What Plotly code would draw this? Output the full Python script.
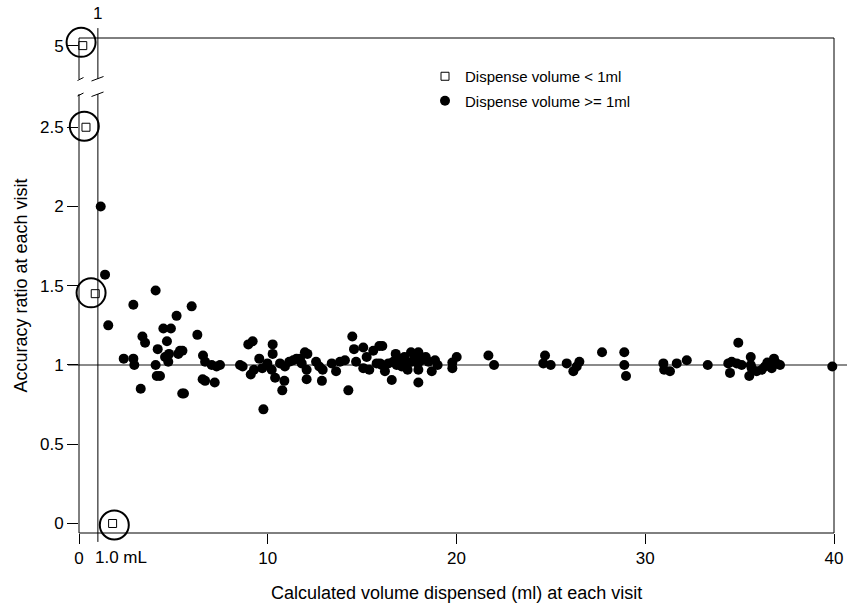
import plotly.graph_objects as go

# ---------------- data ----------------
open_x = [0.2, 0.37, 0.86, 1.78]
open_y = [5, 2.5, 1.45, 0]

filled_x = [
    1.15, 1.38, 4.06, 2.88, 5.97, 1.55, 5.17, 4.47, 4.87, 3.36, 3.50, 4.66, 6.27, 4.17,
    5.35, 5.48, 5.26, 4.56, 4.77, 4.73, 2.37, 2.88, 2.93, 4.06, 6.57, 6.68, 7.03, 7.29,
    7.47, 4.12, 4.29, 6.55, 6.68, 7.19, 3.27, 5.47, 5.56,
    8.53, 8.67, 8.97, 9.20, 9.10, 9.27, 9.55, 9.71, 9.77, 9.98, 10.26, 10.26, 10.21,
    10.39, 10.88, 10.77, 10.65, 10.91, 11.14, 11.35, 11.53, 11.71, 11.80, 11.97, 12.10,
    12.06, 12.06, 12.56, 12.73, 12.91, 12.87, 13.39, 13.62, 13.83, 14.09, 14.27, 14.48,
    14.57, 14.68, 15.06, 15.24, 15.06, 15.38, 15.59, 15.77, 15.91,
    16.07, 15.95, 16.04, 16.21, 16.57, 16.39, 16.65, 16.78, 16.83, 17.01, 17.10, 17.24,
    17.36, 17.41, 17.59, 17.63, 17.80, 17.98, 17.95, 17.98, 17.98, 18.16, 18.37, 18.51,
    18.69, 18.86, 19.00, 19.78, 19.78, 20.01, 21.69, 21.99,
    24.69, 24.60, 24.99, 25.84, 26.19, 26.37, 26.51, 27.71, 28.89, 28.89, 28.98, 30.96,
    31.00, 31.31, 31.67,
    32.20, 33.31, 34.40, 34.58, 34.85, 35.11, 34.49, 34.93, 35.59, 35.59, 35.64, 35.51,
    35.90, 36.17, 36.34, 36.47, 36.70, 36.82, 36.96, 37.14, 39.91,
]
filled_y = [
    2.00, 1.57, 1.47, 1.38, 1.37, 1.25, 1.31, 1.23, 1.23, 1.18, 1.14, 1.15, 1.19, 1.10,
    1.09, 1.09, 1.07, 1.05, 1.07, 1.02, 1.04, 1.04, 1.00, 1.00, 1.06, 1.02, 1.00, 0.99,
    1.00, 0.93, 0.93, 0.91, 0.90, 0.89, 0.85, 0.82, 0.82,
    1.00, 0.99, 1.13, 1.15, 0.94, 0.97, 1.04, 0.98, 0.72, 1.01, 1.13, 1.07, 0.97,
    0.92, 0.90, 0.84, 1.01, 0.99, 1.02, 1.03, 1.04, 1.04, 1.01, 1.08, 1.07,
    0.97, 0.91, 1.02, 0.99, 0.97, 0.90, 1.01, 0.96, 1.02, 1.03, 0.84, 1.18,
    1.10, 1.02, 1.11, 1.05, 0.98, 0.97, 1.09, 1.01, 1.12,
    1.12, 1.01, 1.00, 0.96, 0.905, 1.01, 1.02, 1.07, 1.00, 1.04, 0.99, 1.05,
    1.00, 0.97, 1.08, 1.02, 1.04, 1.08, 1.01, 0.97, 0.89, 1.03, 1.05, 1.02,
    0.96, 1.03, 1.00, 1.015, 0.98, 1.05, 1.06, 1.00,
    1.06, 1.01, 1.00, 1.01, 0.96, 0.99, 1.02, 1.08, 1.08, 1.00, 0.93, 1.01,
    0.97, 0.96, 1.01,
    1.03, 1.00, 1.01, 1.02, 1.01, 1.00, 0.95, 1.14, 1.05, 1.00, 0.98, 0.93,
    0.96, 0.97, 0.99, 1.015, 0.98, 1.04, 1.01, 1.00, 0.99,
]

# circled highlights (centres) around the small-volume points
highlight_x = [0.11, 0.28, 0.64, 1.87]
highlight_y = [5.1, 2.53, 1.455, -0.01]

x_tick_vals = [0, 10, 20, 30, 40]
x_tick_text = ["0", "10", "20", "30", "40"]
y_tick_vals = [0, 0.5, 1, 1.5, 2, 2.5, 5]
y_tick_text = ["0", "0.5", "1", "1.5", "2", "2.5", "5"]

reference_ratio = 1
cutoff_volume = 1

# ---------------- axis break mapping ----------------
BREAK_AT = 2.5
Y5_POS = 3.015
BREAK_SCALE = (Y5_POS - BREAK_AT) / (5 - BREAK_AT)


def to_disp(v):
    return v if v <= BREAK_AT else BREAK_AT + (v - BREAK_AT) * BREAK_SCALE


Y_RANGE = [-0.06, 3.063]
X_RANGE = [0, 40]

FONT = "Arial, Liberation Sans, Helvetica, sans-serif"

fig = go.Figure()

fig.add_trace(go.Scatter(
    x=open_x, y=[to_disp(v) for v in open_y], mode="markers",
    name="Dispense volume < 1ml", legendgroup="a",
    marker=dict(symbol="square-open", size=8, color="black", line=dict(width=1)),
    cliponaxis=False,
))
fig.add_trace(go.Scatter(
    x=filled_x, y=filled_y, mode="markers",
    name="Dispense volume >= 1ml", legendgroup="b",
    marker=dict(symbol="circle", size=10, color="black"),
    cliponaxis=False,
))
fig.add_trace(go.Scatter(
    x=highlight_x, y=[to_disp(v) for v in highlight_y], mode="markers",
    showlegend=False, hoverinfo="skip",
    marker=dict(symbol="circle-open", size=29, color="black", line=dict(width=2)),
    cliponaxis=False,
))

ph = 606 - 38 - 73  # plot height px


def bx(p):
    return (p - 79) / 755


def by(p):
    return (533 - p) / ph


gap_lo = by(94)
gap_hi = by(79)

shapes = []
line_black = dict(color="black", width=1)
# frame
shapes.append(dict(type="line", xref="paper", yref="paper", x0=0, x1=1, y0=1, y1=1, line=line_black))
shapes.append(dict(type="line", xref="paper", yref="paper", x0=1, x1=1, y0=0, y1=1, line=line_black))
shapes.append(dict(type="line", xref="paper", yref="paper", x0=0, x1=1, y0=0, y1=0, line=line_black))
shapes.append(dict(type="line", xref="paper", yref="paper", x0=0, x1=0, y0=0, y1=gap_lo, line=line_black))
shapes.append(dict(type="line", xref="paper", yref="paper", x0=0, x1=0, y0=gap_hi, y1=1, line=line_black))
# cutoff vertical line at 1 mL
shapes.append(dict(type="line", xref="x", yref="paper", x0=cutoff_volume, x1=cutoff_volume,
                   y0=-0.018, y1=gap_lo, line=line_black))
shapes.append(dict(type="line", xref="x", yref="paper", x0=cutoff_volume, x1=cutoff_volume,
                   y0=gap_hi, y1=1.02, line=line_black))
# reference line at ratio 1
shapes.append(dict(type="line", xref="paper", yref="y", x0=-0.0146, x1=1.02,
                   y0=reference_ratio, y1=reference_ratio, layer="below",
                   line=dict(color="#8a8a8a", width=2)))

# break marks
for (xa, ya, xb, yb) in [(77.5, 80.5, 83.5, 77.5), (91.5, 81, 103.5, 76.5),
                         (77.5, 96, 83.5, 93), (91.5, 96.5, 103.5, 92)]:
    shapes.append(dict(type="line", xref="paper", yref="paper",
                       x0=bx(xa), y0=by(ya), x1=bx(xb), y1=by(yb), line=line_black))

annotations = [
    dict(text="1", xref="x", yref="paper", x=cutoff_volume, y=by(14), showarrow=False,
         font=dict(family=FONT, size=17, color="black"), xanchor="center", yanchor="middle"),
    dict(text="1.0 mL", xref="paper", yref="paper", x=bx(93), y=by(557), showarrow=False,
         font=dict(family=FONT, size=17, color="black"), xanchor="left", yanchor="middle"),
    dict(text="Calculated volume dispensed (ml) at each visit", xref="paper", yref="paper",
         x=0.5, y=by(593), showarrow=False, font=dict(family=FONT, size=18, color="black"),
         xanchor="center", yanchor="middle"),
    dict(text="Accuracy ratio at each visit", xref="paper", yref="paper",
         x=bx(20), y=0.5, showarrow=False, textangle=-90,
         font=dict(family=FONT, size=18, color="black"), xanchor="center", yanchor="middle"),
]

fig.update_layout(
    width=847, height=606,
    margin=dict(l=79, r=13, t=38, b=73),
    paper_bgcolor="white", plot_bgcolor="white",
    font=dict(family=FONT, size=17, color="black"),
    showlegend=True,
    legend=dict(x=bx(425), y=by(60), xanchor="left", yanchor="top",
                traceorder="grouped", tracegroupgap=2,
                font=dict(family=FONT, size=15, color="black"),
                bgcolor="rgba(0,0,0,0)", borderwidth=0),
    shapes=shapes,
    annotations=annotations,
    xaxis=dict(range=X_RANGE, tickvals=x_tick_vals, ticktext=x_tick_text,
               ticks="outside", ticklen=10, tickcolor="black", tickwidth=1,
               showgrid=False, zeroline=False, showline=False, automargin=False,
               tickfont=dict(family=FONT, size=17, color="black")),
    yaxis=dict(range=Y_RANGE, tickvals=[to_disp(v) for v in y_tick_vals], ticktext=y_tick_text,
               ticks="outside", ticklen=11, tickcolor="black", tickwidth=1,
               showgrid=False, zeroline=False, showline=False, automargin=False,
               tickfont=dict(family=FONT, size=17, color="black")),
)

fig.write_html("out.html",
               config={"displayModeBar": False},
               post_script="document.body.style.margin='0';document.body.style.overflow='hidden';")
